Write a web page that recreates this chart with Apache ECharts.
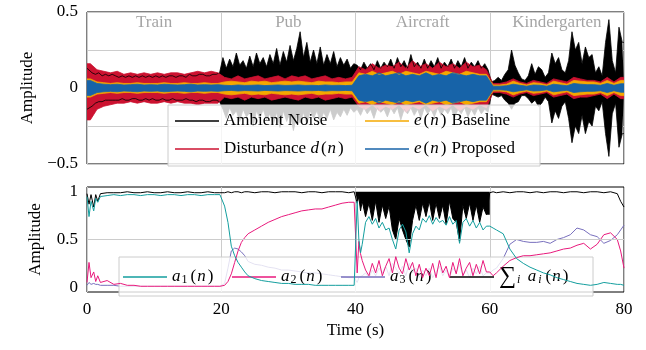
<!DOCTYPE html>
<html>
<head>
<meta charset="utf-8">
<script src="https://cdn.jsdelivr.net/npm/echarts@6/dist/echarts.min.js"></script>
<style>
  html, body { margin: 0; background: #fff; }
  #chart { width: 646px; height: 350px; }
</style>
</head>
<body>
<div id="chart"></div>
<script>
// ---------------------------------------------------------------
// top panel: envelopes
// ambient noise every 0.5 s, the others every 1 s (t = 0..80 s)
// ---------------------------------------------------------------
const segNames = ['Train', 'Pub', 'Aircraft', 'Kindergarten'];
const segCenters = [10, 30, 50, 70];
const segLabelLevel = 0.43;

// ambient noise, upper / lower envelope (0.5 s steps)
const ambUp = [
  0.13, 0.1, 0.09, 0.1, 0.08, 0.09, 0.08, 0.09, 0.08, 0.07, 0.08, 0.07, 0.08, 0.07, 0.08, 0.07, 0.08, 0.07, 0.08, 0.07,
  0.08, 0.07, 0.08, 0.07, 0.08, 0.08, 0.07, 0.08, 0.08, 0.07, 0.09, 0.08, 0.08, 0.09, 0.09, 0.08, 0.08, 0.09, 0.09, 0.1,
  0.2, 0.13, 0.19, 0.14, 0.23, 0.15, 0.18, 0.13, 0.21, 0.14, 0.23, 0.16, 0.2, 0.14, 0.22, 0.16, 0.26, 0.15, 0.24, 0.17,
  0.28, 0.18, 0.26, 0.37, 0.2, 0.3, 0.17, 0.25, 0.16, 0.27, 0.15, 0.22, 0.16, 0.24, 0.14, 0.2, 0.15, 0.19, 0.13, 0.16,
  0.15, 0.12, 0.17, 0.13, 0.16, 0.12, 0.18, 0.13, 0.17, 0.14, 0.19, 0.13, 0.2, 0.14, 0.18, 0.13, 0.22, 0.14, 0.17, 0.13,
  0.19, 0.13, 0.18, 0.14, 0.2, 0.13, 0.17, 0.14, 0.19, 0.13, 0.18, 0.14, 0.2, 0.13, 0.17, 0.14, 0.18, 0.13, 0.16, 0.12,
  0.04, 0.05, 0.07, 0.05, 0.09, 0.12, 0.25, 0.15, 0.1, 0.06, 0.05, 0.08, 0.16, 0.09, 0.14, 0.12, 0.07, 0.1, 0.23, 0.16,
  0.2, 0.12, 0.1, 0.18, 0.37, 0.25, 0.3, 0.16, 0.27, 0.2, 0.22, 0.1, 0.14, 0.08, 0.3, 0.45, 0.18, 0.1, 0.4, 0.3
];
const ambLo = [
  -0.14, -0.12, -0.1, -0.09, -0.09, -0.08, -0.08, -0.08, -0.08, -0.08, -0.07, -0.08, -0.08, -0.07, -0.07, -0.08, -0.08, -0.07, -0.08, -0.07,
  -0.08, -0.08, -0.07, -0.08, -0.08, -0.07, -0.08, -0.08, -0.08, -0.07, -0.08, -0.08, -0.09, -0.08, -0.08, -0.09, -0.09, -0.08, -0.08, -0.09,
  -0.14, -0.2, -0.13, -0.18, -0.15, -0.22, -0.14, -0.19, -0.16, -0.25, -0.15, -0.2, -0.14, -0.21, -0.17, -0.24, -0.16, -0.26, -0.15, -0.22,
  -0.16, -0.28, -0.18, -0.23, -0.16, -0.24, -0.15, -0.2, -0.15, -0.22, -0.16, -0.2, -0.14, -0.21, -0.16, -0.19, -0.14, -0.18, -0.13, -0.16,
  -0.14, -0.18, -0.13, -0.17, -0.14, -0.2, -0.13, -0.16, -0.14, -0.19, -0.13, -0.17, -0.13, -0.21, -0.14, -0.17, -0.13, -0.18, -0.14, -0.2,
  -0.13, -0.17, -0.14, -0.19, -0.13, -0.18, -0.14, -0.17, -0.13, -0.2, -0.14, -0.17, -0.13, -0.19, -0.14, -0.18, -0.13, -0.17, -0.14, -0.16,
  -0.04, -0.05, -0.06, -0.05, -0.08, -0.1, -0.14, -0.1, -0.09, -0.05, -0.05, -0.07, -0.1, -0.08, -0.12, -0.1, -0.06, -0.09, -0.23, -0.15,
  -0.2, -0.12, -0.09, -0.2, -0.36, -0.25, -0.3, -0.18, -0.3, -0.22, -0.25, -0.12, -0.15, -0.09, -0.3, -0.45, -0.17, -0.1, -0.39, -0.3
];
// disturbance d(n) (1 s steps)
const distUp = [
  0.16, 0.12, 0.11, 0.1, 0.11, 0.09, 0.1, 0.09, 0.1, 0.09, 0.1, 0.09, 0.1, 0.1, 0.09, 0.1, 0.11, 0.1, 0.11, 0.1,
  0.07, 0.06, 0.08, 0.06, 0.07, 0.08, 0.06, 0.07, 0.08, 0.06, 0.08, 0.07, 0.08, 0.06, 0.07, 0.08, 0.06, 0.07, 0.06, 0.07,
  0.14, 0.12, 0.16, 0.13, 0.15, 0.14, 0.17, 0.13, 0.18, 0.14, 0.16, 0.13, 0.17, 0.14, 0.16, 0.13, 0.17, 0.14, 0.15, 0.12,
  0.03, 0.03, 0.04, 0.06, 0.04, 0.03, 0.05, 0.04, 0.03, 0.06, 0.05, 0.04, 0.07, 0.06, 0.05, 0.05, 0.04, 0.07, 0.04, 0.07
];
const distLo = [
  -0.21, -0.14, -0.12, -0.11, -0.1, -0.1, -0.09, -0.1, -0.09, -0.1, -0.1, -0.09, -0.1, -0.09, -0.1, -0.1, -0.11, -0.1, -0.1, -0.1,
  -0.06, -0.07, -0.06, -0.08, -0.06, -0.07, -0.06, -0.08, -0.07, -0.06, -0.07, -0.08, -0.06, -0.07, -0.06, -0.08, -0.07, -0.06, -0.07, -0.06,
  -0.12, -0.14, -0.11, -0.15, -0.12, -0.14, -0.11, -0.16, -0.12, -0.14, -0.11, -0.15, -0.12, -0.14, -0.11, -0.15, -0.12, -0.14, -0.11, -0.13,
  -0.03, -0.03, -0.04, -0.06, -0.04, -0.03, -0.05, -0.04, -0.03, -0.06, -0.05, -0.04, -0.07, -0.06, -0.06, -0.05, -0.04, -0.07, -0.04, -0.07
];
// e(n) baseline / proposed, +- amplitude (1 s steps)
const baseAmp = [
  0.06, 0.04, 0.035, 0.03, 0.035, 0.03, 0.03, 0.035, 0.03, 0.03, 0.03, 0.035, 0.03, 0.03, 0.035, 0.03, 0.03, 0.035, 0.03, 0.03,
  0.04, 0.045, 0.04, 0.035, 0.045, 0.04, 0.045, 0.035, 0.04, 0.045, 0.04, 0.045, 0.04, 0.035, 0.045, 0.04, 0.04, 0.035, 0.04, 0.04,
  0.1, 0.09, 0.11, 0.09, 0.1, 0.11, 0.09, 0.11, 0.1, 0.09, 0.11, 0.1, 0.09, 0.11, 0.1, 0.09, 0.11, 0.1, 0.09, 0.09,
  0.02, 0.02, 0.025, 0.045, 0.03, 0.02, 0.035, 0.03, 0.02, 0.045, 0.035, 0.025, 0.05, 0.045, 0.04, 0.04, 0.03, 0.05, 0.03, 0.05
];
const propAmp = [
  0.05, 0.03, 0.025, 0.022, 0.025, 0.02, 0.022, 0.025, 0.02, 0.022, 0.02, 0.025, 0.022, 0.02, 0.022, 0.025, 0.02, 0.022, 0.02, 0.022,
  0.018, 0.016, 0.02, 0.017, 0.018, 0.02, 0.016, 0.018, 0.02, 0.017, 0.018, 0.02, 0.017, 0.018, 0.016, 0.02, 0.017, 0.018, 0.016, 0.018,
  0.08, 0.09, 0.08, 0.1, 0.08, 0.09, 0.1, 0.08, 0.09, 0.08, 0.1, 0.08, 0.09, 0.08, 0.1, 0.09, 0.08, 0.09, 0.08, 0.08,
  0.012, 0.012, 0.015, 0.025, 0.018, 0.012, 0.02, 0.018, 0.012, 0.025, 0.02, 0.015, 0.03, 0.025, 0.022, 0.022, 0.018, 0.03, 0.018, 0.028
];

// ---------------------------------------------------------------
// bottom panel: mixing weights a_i(n)
// ---------------------------------------------------------------
const tB = [
  0, 0.3, 0.6, 1, 1.3, 1.6, 2, 3, 4, 5, 6, 7, 8, 9, 10, 11, 12, 13, 14, 15, 16, 17, 18, 19, 19.8,
  20, 20.5, 21, 21.5, 22, 22.5, 23, 23.5, 24, 25, 26, 27, 28, 29, 30, 31, 32, 33, 34, 35, 36, 37, 38, 39, 39.8,
  40, 40.25, 40.5, 40.75, 41, 41.5, 42, 42.5, 43, 43.5, 44, 44.5, 45, 45.5, 46, 46.5, 47, 47.5, 48, 48.5,
  49, 49.5, 50, 50.5, 51, 51.5, 52, 52.5, 53, 53.5, 54, 54.5, 55, 55.5, 56, 56.5, 57, 57.5, 58, 58.5, 59, 59.5,
  60, 60.5, 61, 62, 63, 64, 65, 66, 67, 68, 69, 70, 71, 72, 73, 74, 75, 76, 77, 78, 79, 79.5, 80
];
const a1 = [
  0.95, 0.74, 0.9, 0.8, 0.93, 0.89, 0.95, 0.96, 0.97, 0.96, 0.97, 0.97, 0.96, 0.97, 0.97, 0.96, 0.97, 0.97, 0.96, 0.97, 0.97, 0.96, 0.97, 0.97, 0.97,
  0.97, 0.85, 0.68, 0.43, 0.33, 0.26, 0.21, 0.16, 0.12, 0.09, 0.07, 0.06, 0.05, 0.04, 0.04, 0.03, 0.03, 0.03, 0.02, 0.02, 0.02, 0.02, 0.02, 0.02, 0.02,
  0.02, 0.9, 0.5, 0.36, 0.45, 0.68, 0.74, 0.66, 0.72, 0.62, 0.68, 0.6, 0.62, 0.5, 0.4, 0.6, 0.66, 0.58, 0.36, 0.56,
  0.64, 0.6, 0.72, 0.68, 0.75, 0.66, 0.73, 0.68, 0.7, 0.65, 0.74, 0.66, 0.7, 0.46, 0.68, 0.72, 0.64, 0.7, 0.62, 0.68, 0.6, 0.64,
  0.64, 0.62, 0.6, 0.56, 0.4, 0.3, 0.25, 0.21, 0.18, 0.15, 0.13, 0.1, 0.08, 0.06, 0.04, 0.03, 0.02, 0.03, 0.05, 0.04, 0.03, 0.03, 0.02
];
const a2 = [
  0.05, 0.26, 0.1, 0.16, 0.06, 0.12, 0.05, 0.07, 0.03, 0.04, 0.02, 0.02, 0.01, 0.01, 0.01, 0.01, 0.01, 0.01, 0.01, 0.01, 0.01, 0.01, 0.01, 0.01, 0.01,
  0.01, 0.02, 0.06, 0.14, 0.26, 0.38, 0.47, 0.52, 0.56, 0.6, 0.64, 0.68, 0.71, 0.74, 0.76, 0.78, 0.8, 0.81, 0.82, 0.82, 0.84, 0.86, 0.88, 0.89, 0.89,
  0.88, 0.15, 0.48, 0.35, 0.28, 0.18, 0.12, 0.25, 0.15, 0.28, 0.12, 0.22, 0.3, 0.15, 0.32, 0.2, 0.14, 0.3, 0.18, 0.26,
  0.12, 0.24, 0.1, 0.2, 0.12, 0.25, 0.1, 0.28, 0.15, 0.22, 0.1, 0.26, 0.14, 0.3, 0.12, 0.2, 0.26, 0.12, 0.24, 0.14, 0.28, 0.16,
  0.16, 0.12, 0.15, 0.22, 0.28, 0.31, 0.33, 0.33, 0.34, 0.35, 0.36, 0.38, 0.4, 0.41, 0.44, 0.46, 0.4, 0.45, 0.55, 0.57, 0.5, 0.38, 0.2
];
const a3 = [
  0.02, 0.05, 0.03, 0.04, 0.03, 0.03, 0.02, 0.02, 0.02, 0.01, 0.01, 0.01, 0.01, 0.01, 0.01, 0.01, 0.01, 0.01, 0.01, 0.01, 0.01, 0.01, 0.01, 0.01, 0.01,
  0.01, 0.04, 0.2, 0.38, 0.41, 0.4, 0.37, 0.33, 0.27, 0.24, 0.23, 0.21, 0.2, 0.18, 0.18, 0.17, 0.16, 0.15, 0.15, 0.14, 0.13, 0.12, 0.11, 0.1, 0.1,
  0.1, 0.05, 0.1, 0.08, 0.12, 0.15, 0.1, 0.18, 0.12, 0.2, 0.15, 0.22, 0.12, 0.25, 0.2, 0.14, 0.22, 0.12, 0.25, 0.15,
  0.2, 0.1, 0.18, 0.12, 0.2, 0.1, 0.16, 0.22, 0.12, 0.18, 0.1, 0.2, 0.15, 0.24, 0.12, 0.18, 0.1, 0.2, 0.14, 0.22, 0.12, 0.15,
  0.15, 0.18, 0.2, 0.3, 0.45, 0.5, 0.48, 0.47, 0.47, 0.48, 0.46, 0.5, 0.52, 0.55, 0.62, 0.6, 0.55, 0.53, 0.46, 0.49, 0.55, 0.6, 0.65
];
const aSum = [
  0.98, 0.87, 0.97, 0.84, 0.97, 0.9, 0.98, 0.99, 0.99, 0.99, 1, 0.99, 0.99, 1, 0.99, 0.99, 1, 0.99, 0.99, 1, 0.99, 0.99, 1, 0.99, 0.99,
  1, 0.99, 1, 0.99, 1, 1, 0.99, 1, 1, 0.99, 1, 1, 0.99, 1, 1, 1, 0.99, 1, 1, 0.99, 1, 1, 1, 0.99, 1,
  1, 0.88, 0.95, 0.8, 0.9, 0.74, 0.88, 0.7, 0.9, 0.68, 0.86, 0.72, 0.85, 0.6, 0.5, 0.72, 0.6, 0.5, 0.42, 0.7,
  0.86, 0.7, 0.88, 0.74, 0.9, 0.7, 0.88, 0.72, 0.86, 0.66, 0.9, 0.72, 0.68, 0.48, 0.86, 0.72, 0.88, 0.7, 0.86, 0.68, 0.84, 0.76,
  0.99, 1, 0.99, 1, 0.99, 1, 1, 0.99, 1, 0.99, 1, 1, 0.99, 1, 1, 0.99, 1, 1, 0.99, 1, 0.98, 0.9, 0.84
];
// in the aircraft segment the sum flickers: dark block from its dips up to the top
const sumTop = 1.0;
const flickerFrom = 40, flickerTo = 60;

const FONT = 'Liberation Serif';
const FS = 17;
const colAmb = '#000000', colDist = '#cc1230', colBase = '#f5a800', colProp = '#1763a8';
const colA1 = '#139e9e', colA2 = '#e8197c', colA3 = '#786fbd', colSum = '#000000';

const rich = {
  r: { fontFamily: FONT, fontSize: FS, lineHeight: 18, color: '#000' },
  p: { fontFamily: FONT, fontSize: FS, lineHeight: 18, color: '#000', padding: [0, 1, 0, 1] },
  i: { fontFamily: FONT, fontSize: FS, lineHeight: 18, fontStyle: 'italic', color: '#000', padding: [0, 1, 0, 0] },
  s: { fontFamily: FONT, fontSize: 12, lineHeight: 8, verticalAlign: 'bottom', color: '#000', padding: [0, 2, 0, 0] },
  si: { fontFamily: FONT, fontSize: 12, lineHeight: 8, verticalAlign: 'bottom', fontStyle: 'italic', color: '#000', padding: [0, 3, 0, 1] },
  big: { fontFamily: FONT, fontSize: 24, lineHeight: 18, color: '#000' }
};
const legendText = {
  amb: '{r|Ambient Noise}',
  dist: '{r|Disturbance }{i|d}{p|(}{i|n}{p|)}',
  base: '{i|e}{p|(}{i|n}{p|)}{r| Baseline}',
  prop: '{i|e}{p|(}{i|n}{p|)}{r| Proposed}',
  a1: '{i|a}{s|1}{p|(}{i|n}{p|)}',
  a2: '{i|a}{s|2}{p|(}{i|n}{p|)}',
  a3: '{i|a}{s|3}{p|(}{i|n}{p|)}',
  sum: '{big|\u2211}{si|i}{r| }{i|a}{si|i}{p|(}{i|n}{p|)}'
};

// points at the middle of each step, held flat to both plot edges
function envelope(vals, step) {
  const d = [[0, vals[0]]];
  vals.forEach((v, i) => d.push([(i + 0.5) * step, v]));
  d.push([80, vals[vals.length - 1]]);
  return d;
}
function neg(vals) { return vals.map(v => -v); }

function band(name, up, lo, step, color, z) {
  const s = {
    name, type: 'line', xAxisIndex: 0, yAxisIndex: 0, symbol: 'none', z,
    lineStyle: { color, width: 0.8 }, itemStyle: { color },
    areaStyle: { color, opacity: 1, origin: 0 }, silent: true
  };
  return [Object.assign({}, s, { data: envelope(up, step) }), Object.assign({}, s, { data: envelope(lo, step) })];
}

function weightLine(name, vals, color, z) {
  return {
    name, type: 'line', xAxisIndex: 1, yAxisIndex: 1, symbol: 'none', z, silent: true,
    lineStyle: { color, width: 1 }, itemStyle: { color },
    data: tB.map((t, k) => [t, vals[k]])
  };
}

const sumData = tB.map((t, k) => [t, aSum[k]]);
const sumFlicker = sumData.filter(p => p[0] >= flickerFrom && p[0] < flickerTo);

const chart = echarts.init(document.getElementById('chart'), null, { renderer: 'canvas' });

const option = {
  animation: false,
  textStyle: { fontFamily: FONT, fontSize: FS, color: '#000' },
  grid: [
    { left: 87, right: 22, top: 12, height: 152, show: true, borderColor: '#000', borderWidth: 1 },
    { left: 87, right: 22, top: 187, height: 105, show: true, borderColor: '#000', borderWidth: 1 }
  ],
  xAxis: [
    {
      gridIndex: 0, type: 'value', min: 0, max: 80, interval: 20,
      axisLine: { show: false }, axisTick: { show: false }, axisLabel: { show: false },
      splitLine: { show: true, lineStyle: { color: '#cccccc', width: 1 } }
    },
    {
      gridIndex: 1, type: 'value', min: 0, max: 80, interval: 20,
      axisLine: { show: false }, axisTick: { show: false },
      axisLabel: { show: true, fontFamily: FONT, fontSize: FS, color: '#000', margin: 9 },
      splitLine: { show: true, lineStyle: { color: '#cccccc', width: 1 } },
      name: 'Time (s)', nameLocation: 'middle', nameGap: 30,
      nameTextStyle: { fontFamily: FONT, fontSize: FS, color: '#000' }
    }
  ],
  yAxis: [
    {
      gridIndex: 0, type: 'value', min: -0.5, max: 0.5, interval: 0.25,
      axisLine: { show: false }, axisTick: { show: false },
      axisLabel: {
        fontFamily: FONT, fontSize: FS, color: '#000', margin: 9,
        formatter: v => (v === 0.5 ? '0.5' : v === 0 ? '0' : v === -0.5 ? '\u22120.5' : '')
      },
      splitLine: { show: true, lineStyle: { color: '#cccccc', width: 1 } },
      name: 'Amplitude', nameLocation: 'middle', nameGap: 43,
      nameTextStyle: { fontFamily: FONT, fontSize: FS, color: '#000' }
    },
    {
      gridIndex: 1, type: 'value', min: -0.05, max: 1.05,
      axisLine: { show: false }, axisTick: { show: false },
      axisLabel: {
        fontFamily: FONT, fontSize: FS, color: '#000', margin: 9,
        customValues: [0, 0.5, 1]
      },
      splitLine: { show: false },
      name: 'Amplitude', nameLocation: 'middle', nameGap: 43,
      nameTextStyle: { fontFamily: FONT, fontSize: FS, color: '#000' }
    }
  ],
  legend: [
    {
      left: 168, top: 105, width: 365, orient: 'horizontal', icon: 'rect',
      padding: [7, 7, 8, 7], itemGap: 10, itemWidth: 44, itemHeight: 1.6,
      backgroundColor: 'rgba(255,255,255,0.8)', borderColor: '#cccccc', borderWidth: 1,
      selectedMode: false,
      data: [
        { name: 'amb', textStyle: { width: 131 } },
        { name: 'base', textStyle: { width: 119 } },
        { name: 'dist', textStyle: { width: 131 } },
        { name: 'prop', textStyle: { width: 119 } }
      ],
      formatter: n => legendText[n],
      textStyle: { rich, lineHeight: 18 }
    },
    {
      left: 119, top: 257, orient: 'horizontal', icon: 'rect',
      padding: [8, 8, 7, 4], itemGap: 10, itemWidth: 44, itemHeight: 1.6,
      backgroundColor: 'rgba(255,255,255,0.8)', borderColor: '#cccccc', borderWidth: 1,
      selectedMode: false,
      data: [
        { name: 'a1', textStyle: { width: 50 } },
        { name: 'a2', textStyle: { width: 50 } },
        { name: 'a3', textStyle: { width: 50 } },
        { name: 'sum', textStyle: { width: 86 } }
      ],
      formatter: n => legendText[n],
      textStyle: { rich, lineHeight: 18 }
    }
  ],
  series: [
    ...band('amb', ambUp, ambLo, 0.5, colAmb, 2),
    ...band('dist', distUp, distLo, 1, colDist, 2),
    ...band('base', baseAmp, neg(baseAmp), 1, colBase, 2),
    ...band('prop', propAmp, neg(propAmp), 1, colProp, 2),
    {
      type: 'scatter', xAxisIndex: 0, yAxisIndex: 0, symbolSize: 0, silent: true, z: 5,
      data: segCenters.map((t, k) => ({ value: [t, segLabelLevel], name: segNames[k] })),
      label: { show: true, position: 'inside', formatter: '{b}', color: '#8f8f8f', fontFamily: FONT, fontSize: FS }
    },
    {
      type: 'custom', xAxisIndex: 1, yAxisIndex: 1, silent: true, z: 2,
      data: [[(flickerFrom + flickerTo) / 2, sumTop]],
      renderItem: (params, api) => {
        const pts = [api.coord([flickerFrom, sumTop])]
          .concat(sumFlicker.map(p => api.coord(p)))
          .concat([api.coord([flickerTo, sumFlicker[sumFlicker.length - 1][1]]), api.coord([flickerTo, sumTop])]);
        return { type: 'polygon', shape: { points: pts }, style: { fill: colSum } };
      }
    },
    {
      name: 'sum', type: 'line', xAxisIndex: 1, yAxisIndex: 1, symbol: 'none', z: 2, silent: true,
      lineStyle: { color: colSum, width: 1 }, itemStyle: { color: colSum },
      data: sumData,
      markLine: {
        silent: true, symbol: 'none', label: { show: false },
        lineStyle: { color: '#cccccc', type: 'solid', width: 1 },
        data: [{ yAxis: 0.5 }]
      }
    },
    weightLine('a3', a3, colA3, 3),
    weightLine('a2', a2, colA2, 4),
    weightLine('a1', a1, colA1, 5)
  ]
};

chart.setOption(option);
</script>
</body>
</html>
